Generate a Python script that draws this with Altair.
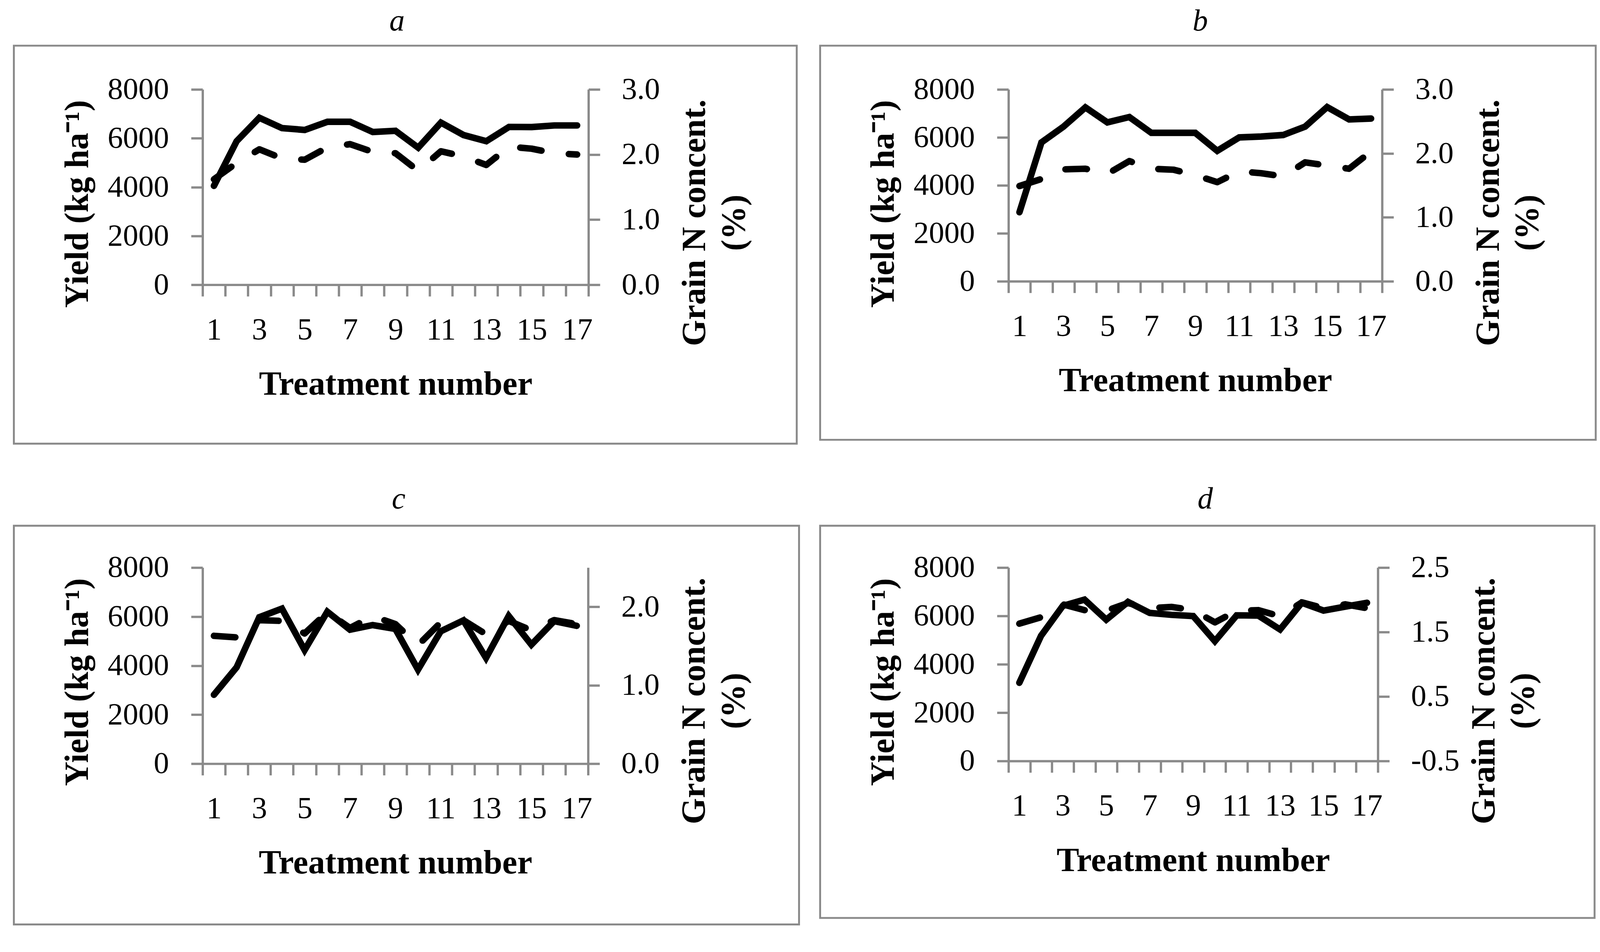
import altair as alt
import pandas as pd

treatments = list(range(1, 18))

yield_a = [4050, 5880, 6840, 6415, 6340, 6675, 6675, 6255, 6305, 5615, 6640, 6130, 5880, 6465, 6460, 6525, 6525]
n_a = [1.62, 1.87, 2.08, 1.94, 1.92, 2.11, 2.16, 2.04, 2.02, 1.75, 2.05, 1.97, 1.84, 2.12, 2.09, 2.02, 2.00]

yield_b = [2880, 5790, 6445, 7250, 6625, 6850, 6190, 6190, 6190, 5440, 6000, 6035, 6100, 6450, 7265, 6750, 6785]
n_b = [1.49, 1.60, 1.75, 1.76, 1.68, 1.88, 1.76, 1.745, 1.66, 1.55, 1.72, 1.69, 1.64, 1.86, 1.81, 1.76, 2.03]

yield_c = [2810, 3930, 5975, 6325, 4635, 6200, 5465, 5655, 5500, 3835, 5400, 5845, 4315, 6025, 4855, 5815, 5625]
n_c = [1.63, 1.61, 1.83, 1.82, 1.66, 1.93, 1.73, 1.88, 1.78, 1.51, 1.80, 1.83, 1.65, 1.82, 1.70, 1.83, 1.78]

yield_d = [3235, 5180, 6415, 6675, 5845, 6580, 6125, 6045, 5995, 4955, 6025, 6015, 5440, 6545, 6220, 6385, 6545]
n_d = [1.63, 1.73, 1.93, 1.84, 1.83, 1.95, 1.87, 1.89, 1.84, 1.65, 1.83, 1.84, 1.745, 1.96, 1.87, 1.93, 1.87]

panel_letters = ["a", "b", "c", "d"]
n_domains = [[0, 3], [0, 3], [0, 2.5], [-0.5, 2.5]]
n_tick_values = [[0, 1, 2, 3], [0, 1, 2, 3], [0, 1, 2], [-0.5, 0.5, 1.5, 2.5]]
yield_ticks = [0, 2000, 4000, 6000, 8000]
x_tick_values = [i + 0.5 for i in range(18)]

x_title = "Treatment number"
y_title = "Yield (kg ha\u207b\u00b9)"
n_title = ["Grain N concent.", "(%)"]

FONT = "Liberation Serif"
GRAY = "#8a8a8a"

# layout (pixels): plot sizes, border boxes and title positions relative to plot origin
sizes = [(1006, 509), (974, 500), (1005, 511), (963, 504)]
boxes = [(-492, 1549, -114, 923), (-491, 1531, -114, 913), (-492, 1555, -109, 930), (-491, 1528, -109, 913)]
title_x = [507, 500, 511, 513]

one = pd.DataFrame({"k": [0]})


def make_panel(i, yv, nv, anchor=False):
    w, h = sizes[i]
    df = pd.DataFrame({"Treatment": treatments, "Yield": yv, "N": nv})
    xenc = alt.X(
        "Treatment:Q",
        scale=alt.Scale(domain=[0.5, 17.5], nice=False, zero=False),
        axis=alt.Axis(
            orient="bottom",
            values=x_tick_values,
            title=x_title,
            labelExpr="(datum.value + 0.5) % 2 == 1 ? format(datum.value + 0.5, 'd') : ''",
            labelOffset=w / 34.0,
            labelPadding=48,
            labelFlush=False,
            labelOverlap=False,
            labelBound=False,
            titleX=w / 2.0,
            titleY=286,
            titleAlign="center",
            titleBaseline="alphabetic",
        ),
    )
    yl = alt.Y(
        "Yield:Q",
        scale=alt.Scale(domain=[0, 8000], nice=False, zero=False),
        axis=alt.Axis(
            orient="left",
            values=yield_ticks,
            format="d",
            title=y_title,
            labelPadding=58,
            titleAngle=270,
            titleX=-300,
            titleY=298,
            titleAlign="center",
            titleBaseline="alphabetic",
        ),
    )
    yr = alt.Y(
        "N:Q",
        scale=alt.Scale(domain=n_domains[i], nice=False, zero=False),
        axis=alt.Axis(
            orient="right",
            values=n_tick_values[i],
            labelExpr="datum.value < 0 ? '-' + format(-datum.value, '.1f') : format(datum.value, '.1f')",
            title=n_title,
            labelPadding=56,
            titleAngle=270,
            titleX=304,
            titleY=347,
            titleAlign="center",
            titleBaseline="alphabetic",
            titleLineHeight=102,
        ),
    )
    base = alt.Chart(df)
    solid = base.mark_line(
        color="black", strokeWidth=17, strokeCap="round", strokeJoin="miter"
    ).encode(x=xenc, y=yl)
    dashed = base.mark_line(
        color="black", strokeWidth=17, strokeCap="round", strokeJoin="round", strokeDash=[56, 72]
    ).encode(x=xenc, y=yr)
    b = boxes[i]
    box = alt.Chart(one).mark_rect(fillOpacity=0, stroke=GRAY, strokeWidth=5).encode(
        x=alt.value(b[0]), x2=alt.value(b[1]), y=alt.value(b[2]), y2=alt.value(b[3])
    )
    letter = alt.Chart(one).mark_text(
        text=panel_letters[i], font=FONT, fontSize=80, fontStyle="italic",
        align="center", baseline="alphabetic", color="black"
    ).encode(x=alt.value(title_x[i]), y=alt.value(-154))
    layers = [box, solid, dashed, letter]
    if anchor:
        anc = alt.Chart(one).mark_rect(color="white").encode(
            x=alt.value(-520), x2=alt.value(-518), y=alt.value(-224), y2=alt.value(-222)
        )
        layers = [anc] + layers
    return alt.layer(*layers).resolve_scale(y="independent").properties(width=w, height=h)


pa = make_panel(0, yield_a, n_a, anchor=True)
pb = make_panel(1, yield_b, n_b)
pc = make_panel(2, yield_c, n_c)
pd_ = make_panel(3, yield_d, n_d)

chart = alt.concat(
    pa, pb, pc, pd_, columns=2, spacing={"row": 737, "column": 1095}
).properties(
    bounds="flush", align="each", padding={"left": 0, "top": -21, "right": 0, "bottom": 0}
).configure_axis(
    domainColor=GRAY, domainWidth=6, tickColor=GRAY, tickWidth=6, tickSize=30,
    labelFont=FONT, labelFontSize=80, labelColor="black",
    titleFont=FONT, titleFontSize=88, titleFontWeight="bold", titleColor="black",
    grid=False,
).configure_view(strokeWidth=0)

chart.save("out.html", embed_options={"renderer": "svg", "actions": False})
